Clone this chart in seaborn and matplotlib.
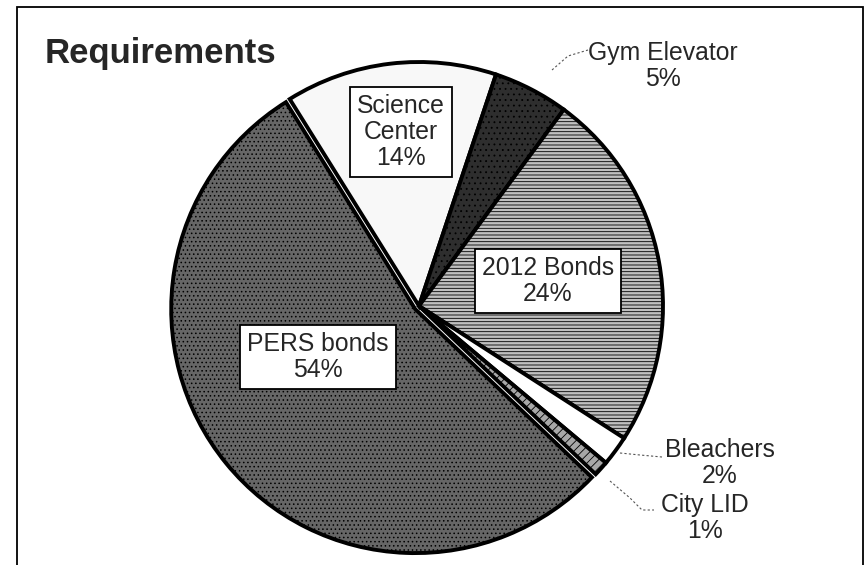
import matplotlib
matplotlib.use("Agg")
import matplotlib.pyplot as plt
from matplotlib.patches import Rectangle
import seaborn as sns

# Budget requirement shares (percent), clockwise from the top-left wedge
categories = ["Science Center", "Gym Elevator", "2012 Bonds", "Bleachers", "City LID", "PERS bonds"]
shares = [14, 5, 24, 2, 1, 54]
title = "Requirements"

sns.set_theme(style="white")
plt.rcParams["font.family"] = ["Liberation Sans", "DejaVu Sans"]
plt.rcParams["hatch.linewidth"] = 0.6

W, H = 867, 565
fig = plt.figure(figsize=(W / 100, H / 100), dpi=100)
ax = fig.add_axes([0, 0, 1, 1])

fills = ["#f8f8f8", "#2e2e2e", "#c0c0c0", "#ffffff", "#a8a8a8", "#666666"]
hatches = [None, "...", "-----", None, "////", "...."]

cx, cy, R = 419, H - 306, 244
# wedge offsets (data units) — the large wedge sits slightly apart from its neighbours
explode = [0, 0, 0, 0, 0, 0.02 * R]

wedges, _ = ax.pie(
    shares,
    startangle=122,
    counterclock=False,
    center=(cx, cy),
    radius=R,
    colors=fills,
    explode=explode,
    wedgeprops=dict(edgecolor="black", linewidth=2.8),
)
for w, h in zip(wedges, hatches):
    if h:
        w.set_hatch(h)

ax.set_xlim(0, W)
ax.set_ylim(0, H)
ax.set_aspect("auto")
ax.axis("off")

fs = 17.8
label_text = [f"{c}\n{v}%" for c, v in zip(categories, shares)]
label_text[0] = f"Science\nCenter\n{shares[0]}%"

boxed = dict(boxstyle="square,pad=0.28", fc="white", ec="black", lw=1.3)

# boxed labels placed inside their wedges
ax.text(401, H - 132, label_text[0], ha="center", va="center", fontsize=fs,
        linespacing=1.12, bbox=boxed)
ax.text(548, H - 281, label_text[2], ha="center", va="center", fontsize=fs,
        linespacing=1.12, bbox=boxed)
ax.text(318, H - 357, label_text[5], ha="center", va="center", fontsize=fs,
        linespacing=1.12, bbox=boxed)

# outside labels with dotted leaders
ax.text(663, H - 66, label_text[1], ha="center", va="center", fontsize=fs, linespacing=1.1)
ax.text(720, H - 463, label_text[3], ha="center", va="center", fontsize=fs, linespacing=1.1)
ax.text(705, H - 518, label_text[4], ha="center", va="center", fontsize=fs, linespacing=1.1)

leader = dict(color="#555555", lw=0.8, ls=(0, (2, 2)))
ax.plot([552, 568, 588], [H - 70, H - 56, H - 50], **leader)
ax.plot([620, 640, 662], [H - 453, H - 455, H - 457], **leader)
ax.plot([610, 630, 642, 654], [H - 481, H - 498, H - 510, H - 510], **leader)

ax.text(45, H - 53, title, ha="left", va="center", fontsize=25, fontweight="bold")

# chart frame
fig.patches.append(Rectangle((17 / W, -0.05), (863 - 17) / W, (H - 7) / H + 0.05,
                             transform=fig.transFigure, fill=False, ec="black", lw=1.3))

fig.savefig("out.png", dpi=100, facecolor="white")
